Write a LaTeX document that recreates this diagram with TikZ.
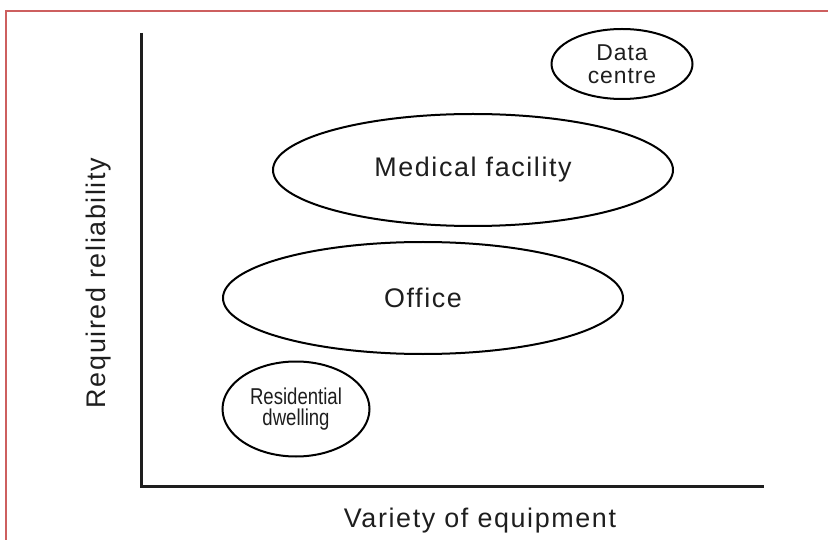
\documentclass[tikz,border=0pt]{standalone}
\usepackage{fontspec}
\setmainfont{Liberation Sans}
\newfontfamily\widefont[LetterSpace=6]{Liberation Sans}
\newfontfamily\datafont[LetterSpace=4]{Liberation Sans}
\newfontfamily\narrowfont[FakeStretch=0.81]{Liberation Sans}
\usepackage{xcolor}
\usepackage{tikz}
\usetikzlibrary{shapes.geometric, positioning}
\definecolor{framered}{RGB}{205,95,95}
\definecolor{inkgrey}{RGB}{30,30,30}

\begin{document}
\begin{tikzpicture}[
    x=1bp, y=-1bp,
    region/.style={ellipse, draw=black, line width=2bp, inner sep=0pt, align=center, text=inkgrey},
    axis label/.style={inner sep=0pt, text=inkgrey, font=\widefont\fontsize{27}{30}\selectfont},
    axis line/.style={line width=3bp, draw=inkgrey, line join=miter},
    line width=1.2pt
]
\useasboundingbox (0,0) rectangle (828,540);

% Frame
\draw[framered, line width=1.5bp] (6,540) -- (6,11) -- (828,11);

% Axes
\coordinate (top) at (141,33);
\coordinate (origin) at (141,486);
\coordinate (right) at (764,486);
\draw[axis line] (top) -- (origin) -- (right);

\node[axis label, anchor=base] (xlab) at (480,527) {Variety of equipment};
\node[axis label, anchor=base, rotate=90] (ylab) at (105,283) {Required reliability};

% Nodes
\node[region, minimum width=141bp, minimum height=70bp,
      font=\datafont\fontsize{23}{23}\selectfont] (data) at (622,64) {Data\\centre};
\node[region, minimum width=400bp, minimum height=112bp,
      font=\widefont\fontsize{27}{30}\selectfont] (medical) at (473,170) {Medical facility};
\node[region, minimum width=400bp, minimum height=112bp,
      font=\widefont\fontsize{27}{30}\selectfont] (office) at (423,298) {Office};
\node[region, minimum width=147bp, minimum height=95bp,
      font=\narrowfont\fontsize{23}{21}\selectfont] (home) at (296,409) {Residential\\dwelling};

\end{tikzpicture}
\end{document}
